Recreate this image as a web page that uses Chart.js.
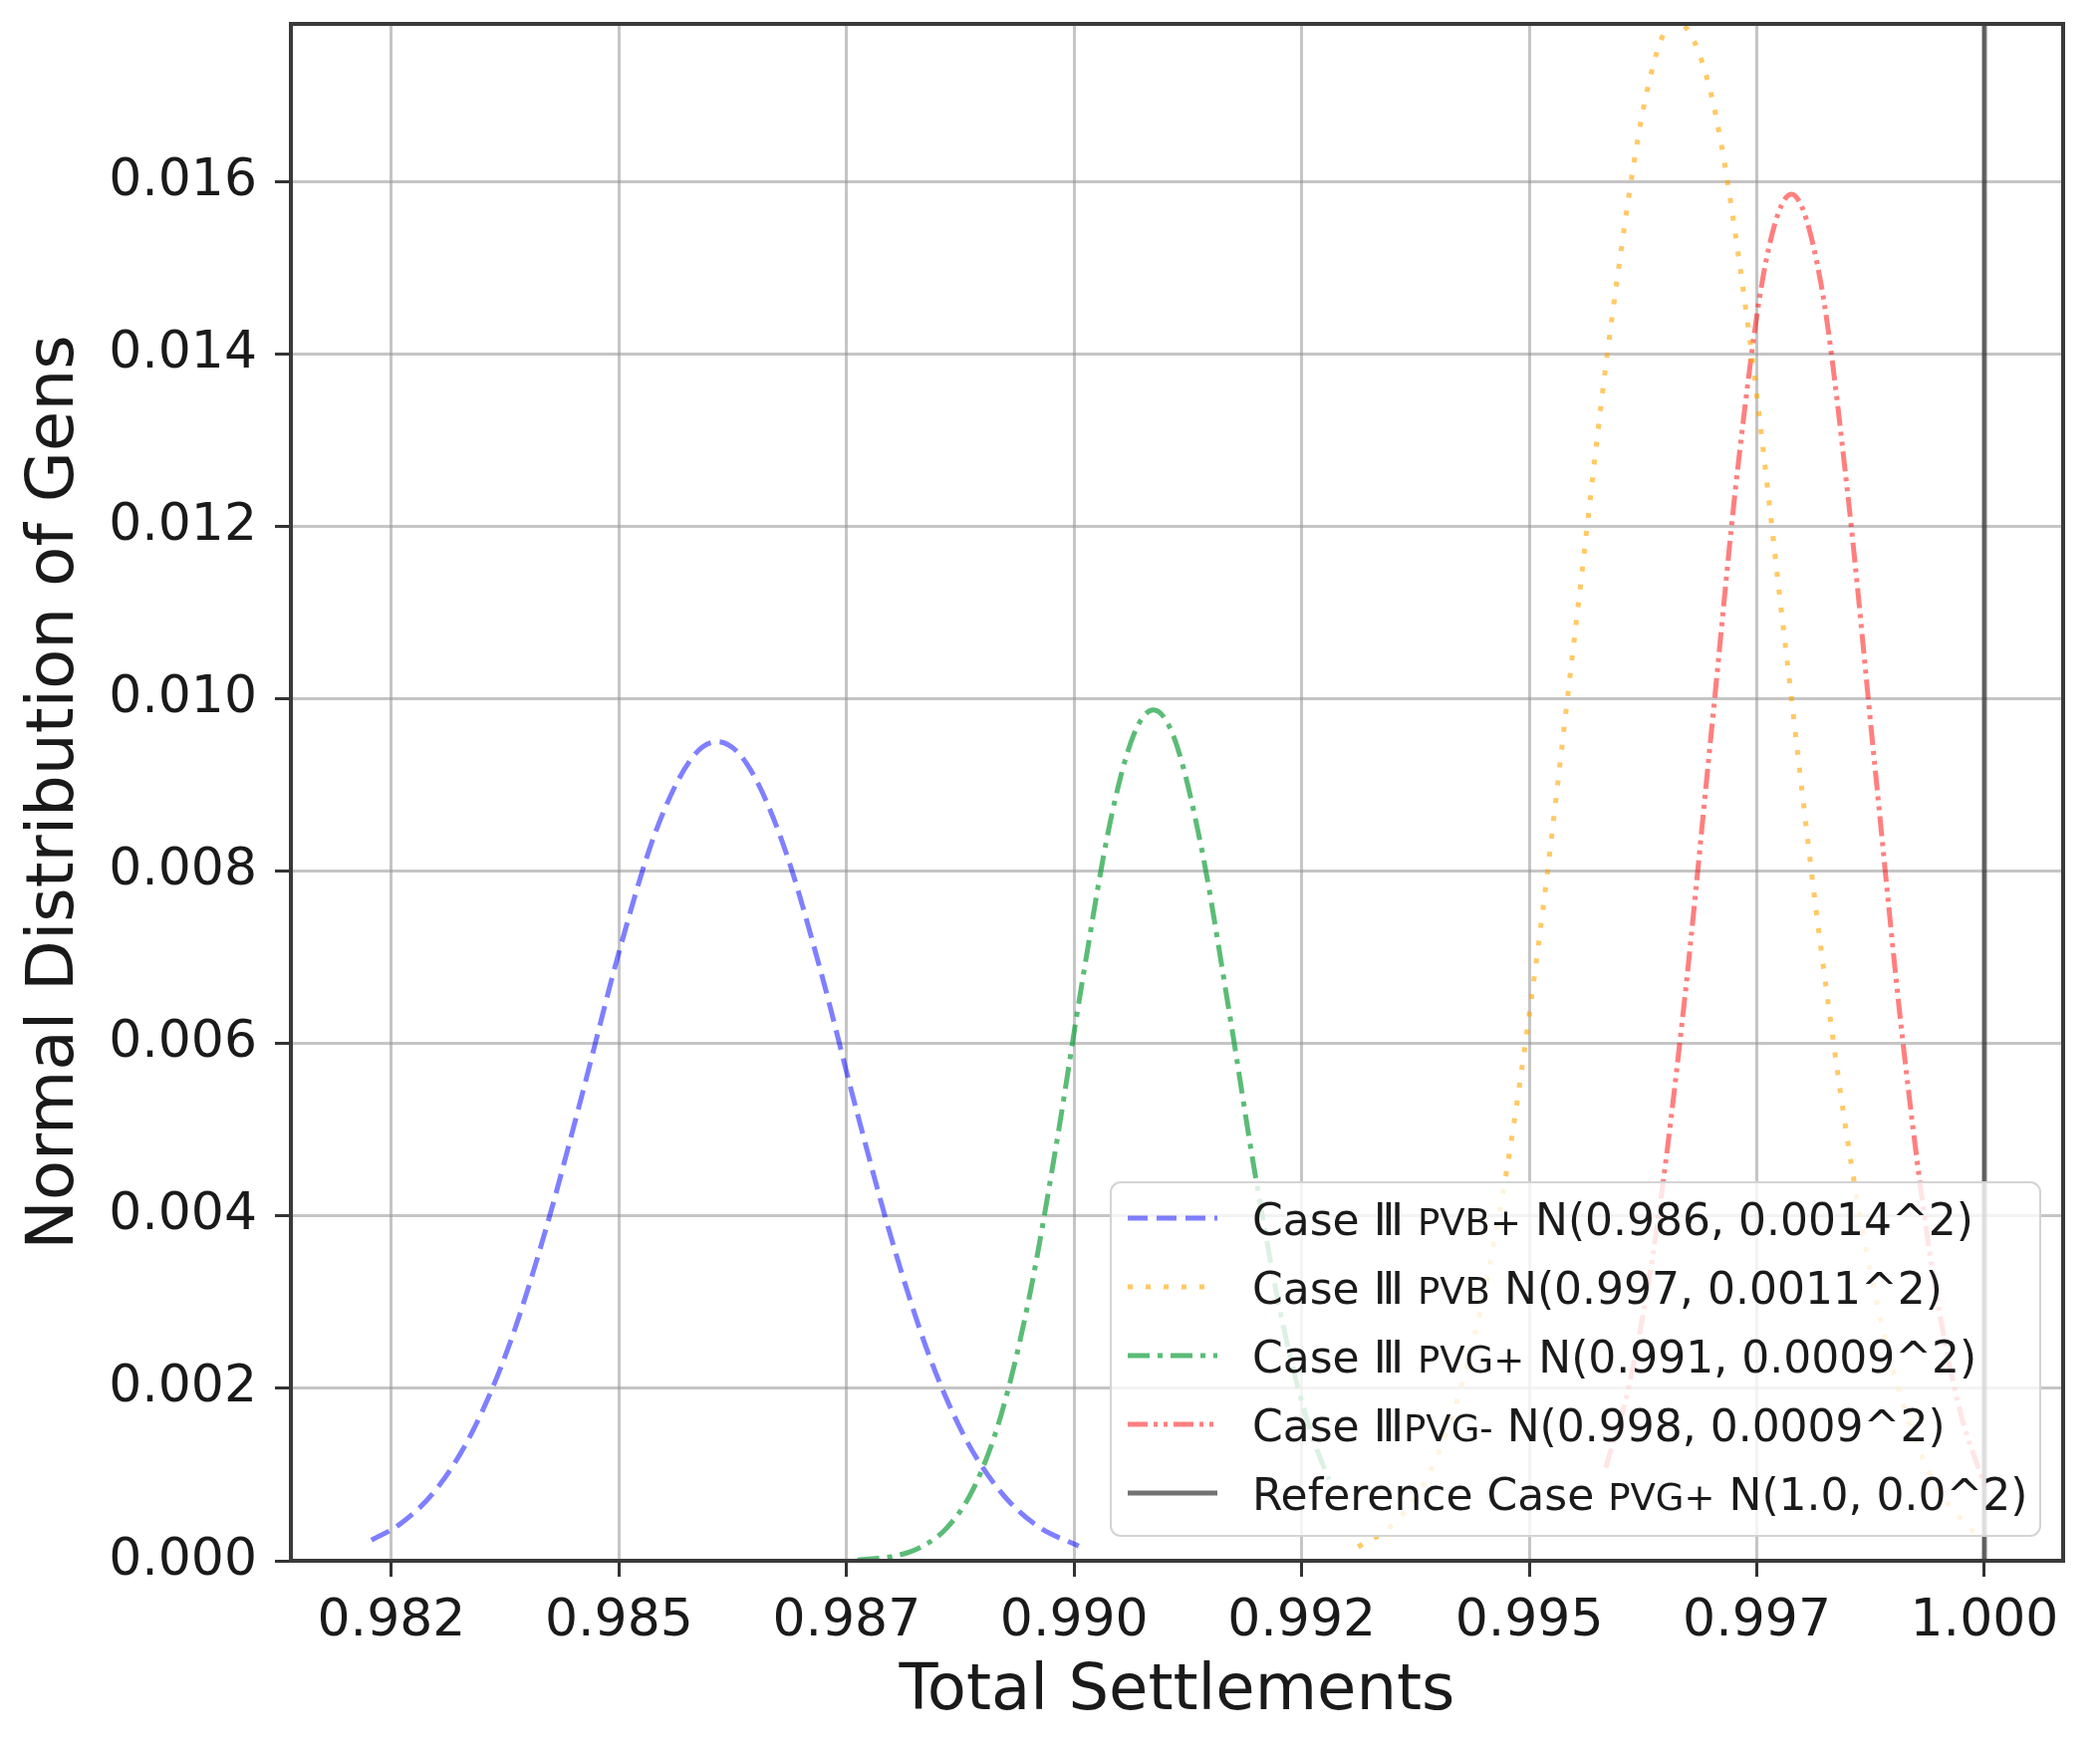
<!DOCTYPE html>
<html>
<head>
<meta charset="utf-8">
<script src="https://cdn.jsdelivr.net/npm/chart.js@4.4.1/dist/chart.umd.min.js"></script>
<style>
  html, body { margin: 0; padding: 0; background: #fff; }
  canvas { display: block; }
</style>
</head>
<body>
<canvas id="chart" width="2108" height="1760"></canvas>
<script>
// values
const blueX = [0.98228, 0.9826, 0.9830, 0.9834, 0.9838, 0.9842, 0.9846, 0.9850, 0.9854, 0.9858, 0.98608,
               0.9864, 0.9868, 0.9872, 0.9876, 0.9880, 0.9884, 0.9888, 0.9892, 0.9896, 0.99005];
const blueY = [0.00024, 0.00043, 0.00084, 0.00152, 0.00252, 0.00386, 0.00543, 0.00706, 0.00845, 0.00931, 0.00950,
               0.00925, 0.00832, 0.00690, 0.00526, 0.00371, 0.00240, 0.00143, 0.00079, 0.00040, 0.00017];

const orangeX = [0.99312, 0.9935, 0.9939, 0.9943, 0.9947, 0.9951, 0.9955, 0.9959, 0.9963, 0.99660,
                 0.9970, 0.9974, 0.9978, 0.9982, 0.9986, 0.9990, 0.9994, 0.9998, 1.0000];
const orangeY = [0.00016, 0.00042, 0.00101, 0.00220, 0.00420, 0.00714, 0.01074, 0.01435, 0.01708, 0.01786,
                 0.01700, 0.01435, 0.01074, 0.00714, 0.00420, 0.00220, 0.00101, 0.00042, 0.00025];

const greenX = [0.98762, 0.9880, 0.9883, 0.9886, 0.9889, 0.9892, 0.9895, 0.9898, 0.9901, 0.9904, 0.99065,
                0.99087, 0.9911, 0.9914, 0.9917, 0.9920, 0.9923, 0.9926, 0.9928];
const greenY = [0.00001, 0.00005, 0.00015, 0.00038, 0.00085, 0.00170, 0.00302, 0.00480, 0.00679, 0.00859, 0.00957,
                0.00987, 0.00954, 0.00826, 0.00639, 0.00441, 0.00271, 0.00149, 0.00094];

const redX = [0.99584, 0.9961, 0.9964, 0.9967, 0.9970, 0.9973, 0.9976, 0.99788,
              0.9982, 0.9985, 0.9988, 0.9991, 0.9994, 0.9997, 1.0000];
const redY = [0.00108, 0.00205, 0.00385, 0.00645, 0.00961, 0.01276, 0.01507, 0.01585,
              0.01484, 0.01236, 0.00918, 0.00606, 0.00357, 0.00187, 0.00087];

const refX = [1.0, 1.0];
const refY = [0, 0.017826];

const xTickValues = [0.9825, 0.985, 0.9875, 0.990, 0.9925, 0.995, 0.9975, 1.000];
const xTickLabels = ['0.982', '0.985', '0.987', '0.990', '0.992', '0.995', '0.997', '1.000'];
const yTickValues = [0, 0.002, 0.004, 0.006, 0.008, 0.010, 0.012, 0.014, 0.016];
const yTickLabels = ['0.000', '0.002', '0.004', '0.006', '0.008', '0.010', '0.012', '0.014', '0.016'];

// legend text: [text, 'big' | 'small']
const legendLabels = [
  [['Case Ⅲ ', 'big'], ['PVB+', 'small'], [' N(0.986, 0.0014^2)', 'big']],
  [['Case Ⅲ ', 'big'], ['PVB', 'small'], [' N(0.997, 0.0011^2)', 'big']],
  [['Case Ⅲ ', 'big'], ['PVG+', 'small'], [' N(0.991, 0.0009^2)', 'big']],
  [['Case Ⅲ', 'big'], ['PVG-', 'small'], [' N(0.998, 0.0009^2)', 'big']],
  [['Reference Case ', 'big'], ['PVG+', 'small'], [' N(1.0, 0.0^2)', 'big']]
];

const FONT = "'DejaVu Sans', sans-serif";

function pts(xs, ys) {
  return xs.map((x, i) => ({ x: x, y: ys[i] }));
}

function series(data, color, dash, width) {
  return {
    data: data,
    borderColor: color,
    borderDash: dash,
    borderWidth: width,
    borderCapStyle: 'butt',
    pointRadius: 0,
    fill: false,
    cubicInterpolationMode: 'monotone'
  };
}

const datasets = [
  series(pts(blueX, blueY), 'rgba(0,0,255,0.5)', [20, 9], 5),
  series(pts(orangeX, orangeY), 'rgba(255,165,0,0.6)', [5, 13], 5),
  series(pts(greenX, greenY), 'rgba(20,160,60,0.7)', [22, 8, 5, 8], 5),
  series(pts(redX, redY), 'rgba(255,0,0,0.5)', [20, 6, 4, 6, 4, 6], 5),
  series(pts(refX, refY), 'rgba(40,40,40,0.65)', [], 5)
];

// spines on all four sides, like matplotlib
const framePlugin = {
  id: 'frame',
  afterDraw(chart) {
    const { ctx, chartArea: a } = chart;
    ctx.save();
    ctx.strokeStyle = '#3a3a3a';
    ctx.lineWidth = 4;
    ctx.setLineDash([]);
    ctx.strokeRect(a.left, a.top, a.right - a.left, a.bottom - a.top);
    ctx.restore();
  }
};

// legend box with small-caps style sub-labels
const legendPlugin = {
  id: 'caseLegend',
  afterDraw(chart) {
    const ctx = chart.ctx;
    const box = { x: 1115, y: 1187, w: 933, h: 355, r: 10 };
    ctx.save();
    ctx.beginPath();
    ctx.roundRect(box.x, box.y, box.w, box.h, box.r);
    ctx.fillStyle = 'rgba(255,255,255,0.8)';
    ctx.fill();
    ctx.strokeStyle = '#d4d4d4';
    ctx.lineWidth = 2;
    ctx.stroke();

    const bigFont = '44px ' + FONT;
    const smallFont = '37px ' + FONT;
    legendLabels.forEach((parts, i) => {
      const base = 1240 + i * 69;
      const ds = chart.data.datasets[i];
      ctx.beginPath();
      ctx.setLineDash(ds.borderDash);
      ctx.strokeStyle = ds.borderColor;
      ctx.lineWidth = ds.borderWidth;
      ctx.lineCap = 'butt';
      ctx.moveTo(1132, base - 17);
      ctx.lineTo(1222, base - 17);
      ctx.stroke();
      ctx.setLineDash([]);

      let x = 1257;
      ctx.fillStyle = '#1a1a1a';
      ctx.textBaseline = 'alphabetic';
      ctx.textAlign = 'left';
      parts.forEach(([t, kind]) => {
        ctx.font = kind === 'big' ? bigFont : smallFont;
        ctx.fillText(t, x, base);
        x += ctx.measureText(t).width;
      });
    });
    ctx.restore();
  }
};

new Chart(document.getElementById('chart').getContext('2d'), {
  type: 'line',
  data: { datasets: datasets },
  options: {
    responsive: false,
    animation: false,
    devicePixelRatio: 1,
    layout: { padding: { top: 24, right: 37, left: 0, bottom: 0 } },
    plugins: { legend: { display: false }, tooltip: { enabled: false } },
    scales: {
      x: {
        type: 'linear',
        min: 0.981395,
        max: 1.000865,
        afterBuildTicks: s => { s.ticks = xTickValues.map(v => ({ value: v })); },
        afterFit: s => { s.height = 193; s.paddingLeft = 0; s.paddingRight = 0; },
        ticks: {
          autoSkip: false,
          maxRotation: 0,
          padding: 14,
          color: '#1a1a1a',
          font: { family: FONT, size: 52 },
          callback: (v, i) => xTickLabels[i]
        },
        grid: { color: 'rgba(150,150,150,0.55)', lineWidth: 3, tickLength: 16, tickColor: '#333', tickWidth: 3 },
        border: { display: true, color: '#3a3a3a', width: 4 },
        title: {
          display: true,
          text: 'Total Settlements',
          color: '#1a1a1a',
          font: { family: FONT, size: 64 },
          padding: { top: 0, bottom: 22 }
        }
      },
      y: {
        min: 0,
        max: 0.017826,
        afterBuildTicks: s => { s.ticks = yTickValues.map(v => ({ value: v })); },
        afterFit: s => { s.width = 292; s.paddingTop = 0; s.paddingBottom = 0; },
        ticks: {
          padding: 18,
          color: '#1a1a1a',
          font: { family: FONT, size: 52 },
          callback: (v, i) => yTickLabels[i]
        },
        grid: { color: 'rgba(150,150,150,0.55)', lineWidth: 3, tickLength: 16, tickColor: '#333', tickWidth: 3 },
        border: { display: true, color: '#3a3a3a', width: 4 },
        title: {
          display: true,
          text: 'Normal Distribution of Gens',
          color: '#1a1a1a',
          font: { family: FONT, size: 66 },
          padding: { top: 16, bottom: 0 }
        }
      }
    }
  },
  plugins: [framePlugin, legendPlugin]
});
</script>
</body>
</html>
